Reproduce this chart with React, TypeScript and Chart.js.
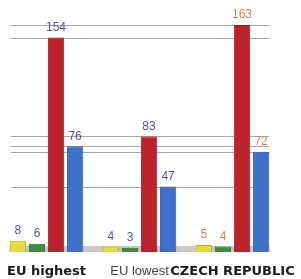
import React, { useEffect, useRef } from "react";
import { Chart, registerables } from "chart.js";

Chart.register(...registerables);

const categories = ["EU highest", "EU lowest", "CZECH REPUBLIC"];
const yellowValues = [8, 4, 5];
const greenValues = [6, 3, 4];
const redValues = [154, 83, 163];
const blueValues = [76, 47, 72];
const gridValues = [47, 72, 76, 83, 154, 163];

const labelPlugin = {
  id: "valueLabels",
  afterDatasetsDraw(chart: any) {
    const ctx = chart.ctx;
    ctx.save();
    ctx.font = "12px 'Liberation Sans', Arial, sans-serif";
    ctx.textAlign = "center";
    ctx.textBaseline = "bottom";
    chart.data.datasets.forEach((ds: any, di: number) => {
      const meta = chart.getDatasetMeta(di);
      meta.data.forEach((bar: any, i: number) => {
        ctx.fillStyle = i === 2 ? "#d8834f" : "#55559f";
        ctx.fillText(String(ds.data[i]), bar.x, bar.y - 4);
      });
    });
    ctx.restore();
  },
};

const backdropPlugin = {
  id: "backdrop",
  beforeDatasetsDraw(chart: any) {
    const ctx = chart.ctx;
    const y = chart.scales.y;
    const first = chart.getDatasetMeta(0).data[0];
    const last = chart.getDatasetMeta(3).data[2];
    const x0 = first.x - first.width / 2;
    const x1 = last.x + last.width / 2;
    ctx.save();
    ctx.strokeStyle = "#aaaaaa";
    ctx.lineWidth = 1;
    gridValues.forEach((v) => {
      const py = Math.round(y.getPixelForValue(v)) + 0.5;
      ctx.beginPath();
      ctx.moveTo(x0 + 1, py);
      ctx.lineTo(x1, py);
      ctx.stroke();
    });
    const base = y.getPixelForValue(0);
    ctx.fillStyle = "#c9c9c9";
    ctx.fillRect(x0, base - 6, x1 - x0, 6);
    ctx.restore();
  },
};

export default function App() {
  const ref = useRef<HTMLCanvasElement>(null);
  useEffect(() => {
    document.body.style.margin = "0";
    const chart = new Chart(ref.current!, {
      type: "bar",
      data: {
        labels: categories,
        datasets: [
          { data: yellowValues, backgroundColor: "#e6dc3c", borderColor: "#b8ae2a", borderWidth: 1 },
          { data: greenValues, backgroundColor: "#3d8c3d", borderColor: "#2c6e2c", borderWidth: 1 },
          { data: redValues, backgroundColor: "#bb2229", borderColor: "#951a20", borderWidth: 1 },
          { data: blueValues, backgroundColor: "#3f6fcb", borderColor: "#2f58a8", borderWidth: 1 },
        ],
      },
      options: {
        animation: false,
        responsive: false,
        maintainAspectRatio: false,
        layout: { padding: { left: -2, right: 22, top: 0, bottom: 0 } },
        plugins: { legend: { display: false }, tooltip: { enabled: false } },
        datasets: { bar: { categoryPercentage: 0.82, barPercentage: 0.86 } },
        scales: {
          x: {
            grid: { display: false, drawTicks: false },
            border: { display: false },
            ticks: {
              padding: 12,
              maxRotation: 0,
              autoSkip: false,
              color: (c: any) => (c.index === 1 ? "#444444" : "#1a1a1a"),
              font: (c: any) =>
                c.index === 1
                  ? { family: "'Liberation Sans', Arial, sans-serif", size: 13, weight: "normal" }
                  : { family: "'DejaVu Sans', sans-serif", size: 13, weight: "bold" },
            },
            afterFit: (s: any) => {
              s.paddingLeft = 0;
              s.paddingRight = 0;
              s.height = 27;
            },
          },
          y: { display: false, min: 0, max: 181 },
        },
      },
      plugins: [backdropPlugin, labelPlugin],
    } as any);
    return () => chart.destroy();
  }, []);
  return <canvas ref={ref} width={301} height={279} style={{ display: "block" }} />;
}
